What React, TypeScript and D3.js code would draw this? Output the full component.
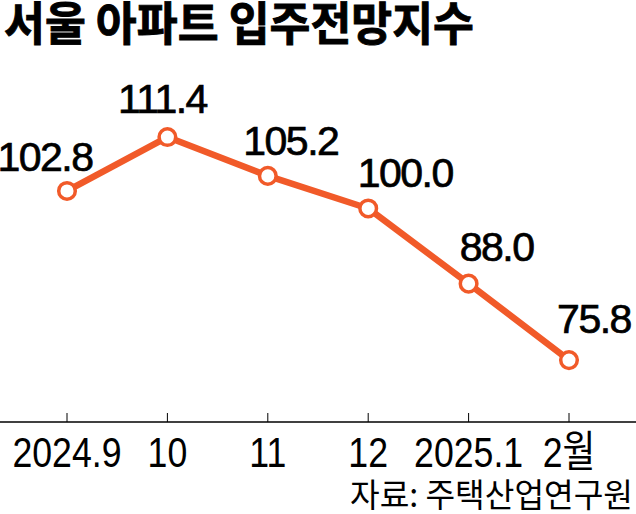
import React from "react";
import * as d3 from "d3";

const categories = ["2024.9", "10", "11", "12", "2025.1", "2월"];
const values = [102.8, 111.4, 105.2, 100.0, 88.0, 75.8];
const valueLabels = ["102.8", "111.4", "105.2", "100.0", "88.0", "75.8"];
const title = "서울 아파트 입주전망지수";
const source = "자료: 주택산업연구원";

// layout: label offsets relative to each point [dx, dy]
const labelOffsets: [number, number][] = [
  [-22, -20],
  [-5, -24],
  [23, -21],
  [37, -21],
  [28, -23],
  [25, -27],
];

const W = 636;
const H = 514;
const ORANGE = "#f15a29";
const NUM_FONT = "'Liberation Sans', Arial, Helvetica, sans-serif";
const KR_FONT = "'Noto Sans CJK KR', 'Noto Sans', sans-serif";

export default function App() {
  const x = d3.scalePoint<string>().domain(categories).range([67, 569]).padding(0);
  const y = d3.scaleLinear().domain([66, 130]).range([421.5, 20.5]);
  const axisY = 422;

  const line = d3
    .line<number>()
    .x((_, i) => x(categories[i]) as number)
    .y((d) => y(d));

  return (
    <svg
      width={W}
      height={H}
      viewBox={`0 0 ${W} ${H}`}
      style={{ position: "absolute", left: 0, top: 0, display: "block", background: "#fff" }}
    >
      <rect x={0} y={0} width={W} height={H} fill="#fff" />
      <text
        x={4}
        y={40}
        fontFamily={KR_FONT}
        fontWeight={700}
        fontSize={46}
        fill="#000"
        stroke="#000"
        strokeWidth={0.9}
        textLength={470}
        lengthAdjust="spacingAndGlyphs"
      >
        {title}
      </text>

      {/* axis */}
      <line x1={0} x2={W} y1={axisY} y2={axisY} stroke="#000" strokeWidth={1.5} />
      {categories.map((c) => (
        <line
          key={"t" + c}
          x1={x(c)}
          x2={x(c)}
          y1={axisY - 9}
          y2={axisY}
          stroke="#000"
          strokeWidth={1}
        />
      ))}
      {categories.map((c) => (
        <text
          key={"l" + c}
          transform={`translate(${x(c)},467) scale(0.83,1)`}
          textAnchor="middle"
          fontFamily={`${NUM_FONT}, ${KR_FONT}`}
          fontSize={43}
          fill="#000"
        >
          {c}
        </text>
      ))}

      {/* line */}
      <path d={line(values) || ""} fill="none" stroke={ORANGE} strokeWidth={6.5} strokeLinejoin="round" />
      {values.map((v, i) => (
        <circle
          key={"c" + i}
          cx={x(categories[i])}
          cy={y(v)}
          r={8.3}
          fill="#fff"
          stroke={ORANGE}
          strokeWidth={3.5}
        />
      ))}
      {values.map((v, i) => (
        <text
          key={"v" + i}
          x={(x(categories[i]) as number) + labelOffsets[i][0]}
          y={y(v) + labelOffsets[i][1]}
          textAnchor="middle"
          fontFamily={NUM_FONT}
          fontSize={41}
          letterSpacing={-1.5}
          fill="#000"
          stroke="#000"
          strokeWidth={0.7}
        >
          {valueLabels[i]}
        </text>
      ))}

      <text
        x={350}
        y={507}
        fontFamily={KR_FONT}
        fontSize={33}
        fill="#000"
        textLength={283}
        lengthAdjust="spacingAndGlyphs"
      >
        {source}
      </text>
    </svg>
  );
}
